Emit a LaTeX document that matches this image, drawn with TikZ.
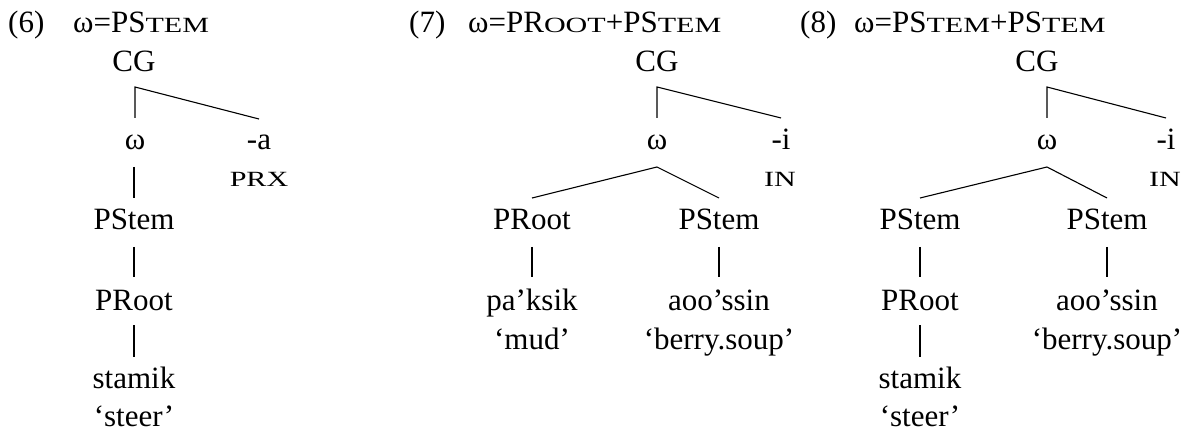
\documentclass[tikz,border=0pt]{standalone}
\usepackage{fontspec}
\setmainfont{Liberation Serif}
\usetikzlibrary{calc}
% small capitals, faked from scaled capitals
\newcommand\smcap[1]{\scalebox{0.97}[0.7]{#1}}
\begin{document}
\begin{tikzpicture}[x=1pt,y=-1pt,
  lbl/.style={anchor=base,inner sep=0pt,font=\fontsize{31}{37}\selectfont},
  hdr/.style={anchor=base west,inner sep=0pt,font=\fontsize{31}{37}\selectfont},
  edge/.style={line width=1.1pt}]
\useasboundingbox (0,0) rectangle (1188,430);

% ---------- (6) ----------
\node[hdr] (n6) at (8,33) {(6)};
\node[hdr] (h6) at (73,33) {ω=PS\smcap{TEM}};
\node[lbl] (cg6) at (134,72) {CG};
\node[lbl] (w6) at (135,150) {ω};
\node[lbl] (a6) at (259,150) {-a};
\node[lbl] (prx6) at (259,187) {\smcap{PRX}};
\node[lbl] (ps6) at (134,230) {PStem};
\node[lbl] (pr6) at (134,310) {PRoot};
\node[lbl] (st6) at (134,388) {stamik};
\node[lbl] (gl6) at (134,426) {‘steer’};
\draw[edge] ($(w6.base)+(0,32pt)$) -- ($(cg6.base -| w6.base)+(0,-15pt)$) -- ($(a6.base)+(0,31pt)$);
\draw[edge] ($(w6.base -| ps6.base)+(0,-17pt)$) -- ($(ps6.base)+(0,32pt)$);
\draw[edge] ($(ps6.base)+(0,-17pt)$) -- ($(pr6.base)+(0,33pt)$);
\draw[edge] ($(pr6.base)+(0,-15pt)$) -- ($(st6.base)+(0,31pt)$);

% ---------- (7) ----------
\node[hdr] (n7) at (409,33) {(7)};
\node[hdr] (h7) at (468,33) {ω=PR\smcap{OOT}+PS\smcap{TEM}};
\node[lbl] (cg7) at (657,72) {CG};
\node[lbl] (w7) at (657,150) {ω};
\node[lbl] (i7) at (781,150) {-i};
\node[lbl] (in7) at (780,187) {\smcap{IN}};
\node[lbl] (pr7) at (532,230) {PRoot};
\node[lbl] (ps7) at (719,230) {PStem};
\node[lbl] (pk7) at (532,310) {pa’ksik};
\node[lbl] (md7) at (532,349) {‘mud’};
\node[lbl] (ao7) at (719,310) {aoo’ssin};
\node[lbl] (bs7) at (719,349) {‘berry.soup’};
\draw[edge] ($(w7.base)+(0,32pt)$) -- ($(cg7.base -| w7.base)+(0,-15pt)$) -- ($(i7.base)+(0,32pt)$);
\draw[edge] ($(pr7.base)+(0,32pt)$) -- ($(w7.base)+(0,-17pt)$) -- ($(ps7.base)+(0,32pt)$);
\draw[edge] ($(pr7.base)+(0,-17pt)$) -- ($(pk7.base)+(0,33pt)$);
\draw[edge] ($(ps7.base)+(0,-17pt)$) -- ($(ao7.base)+(0,33pt)$);

% ---------- (8) ----------
\node[hdr] (n8) at (800,33) {(8)};
\node[hdr] (h8) at (854,33) {ω=PS\smcap{TEM}+PS\smcap{TEM}};
\node[lbl] (cg8) at (1037,72) {CG};
\node[lbl] (w8) at (1047,150) {ω};
\node[lbl] (i8) at (1166,150) {-i};
\node[lbl] (in8) at (1165,187) {\smcap{IN}};
\node[lbl] (psl8) at (920,230) {PStem};
\node[lbl] (psr8) at (1107,230) {PStem};
\node[lbl] (pr8) at (920,310) {PRoot};
\node[lbl] (st8) at (920,388) {stamik};
\node[lbl] (gl8) at (920,426) {‘steer’};
\node[lbl] (ao8) at (1107,310) {aoo’ssin};
\node[lbl] (bs8) at (1107,349) {‘berry.soup’};
\draw[edge] ($(w8.base)+(0,32pt)$) -- ($(cg8.base -| w8.base)+(0,-15pt)$) -- ($(i8.base)+(0,32pt)$);
\draw[edge] ($(psl8.base)+(0,32pt)$) -- ($(w8.base)+(0,-17pt)$) -- ($(psr8.base)+(0,32pt)$);
\draw[edge] ($(psl8.base)+(0,-17pt)$) -- ($(pr8.base)+(0,33pt)$);
\draw[edge] ($(pr8.base)+(0,-15pt)$) -- ($(st8.base)+(0,31pt)$);
\draw[edge] ($(psr8.base)+(0,-17pt)$) -- ($(ao8.base)+(0,33pt)$);
\end{tikzpicture}
\end{document}
